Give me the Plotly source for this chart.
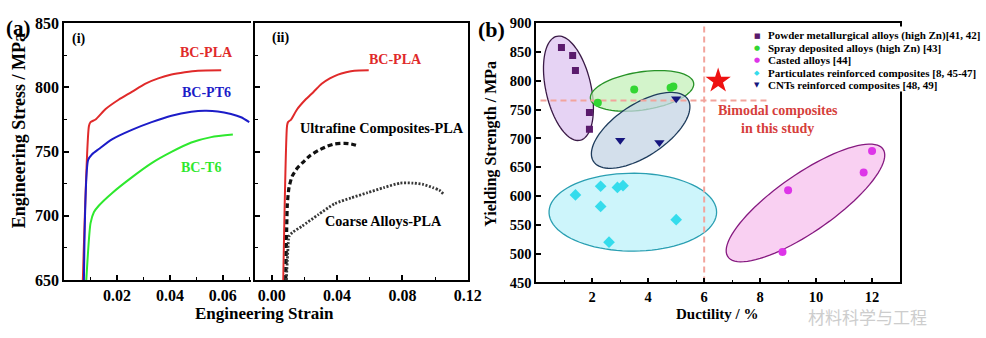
import numpy as np
import plotly.graph_objects as go

W, H = 986, 338
FONT = "Liberation Serif"

# ---------------- data: panel (a)(i) ----------------
pla_strain = [0.0071, 0.0094, 0.0100, 0.0119, 0.0156, 0.0206, 0.0256, 0.0306, 0.0356, 0.0406, 0.0456, 0.0506, 0.0594]
pla_stress = [650, 770, 773, 775, 783, 790.4, 796.5, 802.8, 807, 810, 811.8, 813, 813.3]

pt6_strain = [0.0075, 0.0091, 0.0106, 0.0131, 0.0181, 0.0256, 0.0331, 0.0406, 0.0481, 0.0531, 0.0581, 0.0631, 0.0669, 0.0700]
pt6_stress = [650, 743.6, 748, 752, 759.6, 767, 773, 778, 781, 781.8, 781.3, 779.3, 776.8, 773]

t6_strain = [0.0084, 0.0100, 0.0113, 0.0131, 0.0181, 0.0256, 0.0331, 0.0406, 0.0481, 0.0556, 0.0638]
t6_stress = [650, 694.3, 703, 707.9, 717.7, 730, 741.1, 749.8, 757.1, 761.3, 763.3]

# ---------------- data: panel (a)(ii) ----------------
ufc_strain = [0.0086, 0.0092, 0.0096, 0.0106, 0.0126, 0.0156, 0.0186, 0.0236, 0.0286, 0.0336, 0.0386, 0.0446, 0.0486, 0.0516]
ufc_stress = [650, 690, 709, 722, 731, 737, 741, 747, 751, 754, 756, 756.5, 756, 755]

coarse_strain = [0.0090, 0.0100, 0.0106, 0.0126, 0.0186, 0.0286, 0.0386, 0.0486, 0.0586, 0.0686, 0.0786, 0.0866, 0.0926, 0.0986, 0.1026, 0.1052]
coarse_stress = [650, 675, 684, 687, 692, 701, 709.5, 714, 718, 722, 725.5, 725.5, 724.5, 722, 720, 717]

# ---------------- data: panel (b) ----------------
pm_duct = [0.9, 1.3, 1.4, 1.9, 1.9]
pm_ys = [858, 844, 818, 745, 716]
spray_duct = [2.2, 3.5, 4.8, 4.9]
spray_ys = [762, 785, 788, 790]
cast_duct = [12.0, 11.7, 9.0, 8.8]
cast_ys = [678, 641, 610, 503]
part_duct = [1.4, 2.3, 2.3, 2.9, 3.1, 2.6, 5.0]
part_ys = [602, 617, 582, 615, 618, 520, 559]
cnt_duct = [3.0, 4.4, 5.0]
cnt_ys = [697, 693, 769]
study_duct = [6.5]
study_ys = [800]
ref_ys = 766          # horizontal reference line
ref_duct = 6          # vertical reference line
ref_h_extent = [0.15, 8.3]

legend_names = [
    "Powder metallurgical alloys (high Zn)[41, 42]",
    "Spray deposited alloys (high Zn) [43]",
    "Casted alloys [44]",
    "Particulates reinforced composites [8, 45-47]",
    "CNTs reinforced composites [48, 49]",
]

# ---------------- layout geometry (pixels) ----------------
A1 = (65, 255)
A2 = (259, 474.5)
B = (544, 913)
A_TB = (16, 286.5)
B_TB = (16, 289)


def xd(lr):
    return [lr[0] / W, lr[1] / W]


def yd(tb):
    return [1 - tb[1] / H, 1 - tb[0] / H]


def px(x):
    return x / W


def py(y):
    return 1 - y / H


fig = go.Figure()

RED, BLUE, GREEN = "#e02a2a", "#1c1cc8", "#2ee82e"

line_kw = dict(mode="lines", line_shape="spline", showlegend=False, hoverinfo="skip")
fig.add_trace(go.Scatter(x=pla_strain, y=pla_stress, line=dict(color=RED, width=2, smoothing=0.6), xaxis="x", yaxis="y", **line_kw))
fig.add_trace(go.Scatter(x=pt6_strain, y=pt6_stress, line=dict(color=BLUE, width=2, smoothing=0.6), xaxis="x", yaxis="y", **line_kw))
fig.add_trace(go.Scatter(x=t6_strain, y=t6_stress, line=dict(color=GREEN, width=2, smoothing=0.6), xaxis="x", yaxis="y", **line_kw))

fig.add_trace(go.Scatter(x=pla_strain, y=pla_stress, line=dict(color=RED, width=2, smoothing=0.6), xaxis="x2", yaxis="y2", **line_kw))
fig.add_trace(go.Scatter(x=ufc_strain, y=ufc_stress, line=dict(color="#111111", width=3.2, dash="5px,3px", smoothing=0.6), xaxis="x2", yaxis="y2", **line_kw))
fig.add_trace(go.Scatter(x=coarse_strain, y=coarse_stress, line=dict(color="#383838", width=2.8, dash="2px,1.6px", smoothing=0.6), xaxis="x2", yaxis="y2", **line_kw))

# ---------------- panel (b) ellipses ----------------
sx = (B[1] - B[0]) / 13.0
sy = (B_TB[1] - B_TB[0]) / 450.0

ellipses = [
    # cx, cy (data), a_px, b_px, angle_deg, fill, line
    (1.15, 787, 56, 23, 102, "rgba(221,196,240,0.75)", "#3a1a46"),
    (3.78, 782.5, 53, 20, 9, "rgba(196,240,186,0.75)", "#279227"),
    (3.73, 714, 58, 27, 35, "rgba(196,212,228,0.75)", "#1e3c5c"),
    (3.45, 572, 85, 41, 0, "rgba(192,242,250,0.80)", "#2a9fb2"),
    (9.62, 588, 97, 30, 36, "rgba(248,200,240,0.85)", "#861a80"),
]
shapes = []
for cx, cy, a, b, ang, fc, lc in ellipses:
    t = np.linspace(0, 2 * np.pi, 90)
    th = np.radians(ang)
    dxp = a * np.cos(t) * np.cos(th) - b * np.sin(t) * np.sin(th)
    dyp = a * np.cos(t) * np.sin(th) + b * np.sin(t) * np.cos(th)
    xs = cx + dxp / sx
    ys = cy + dyp / sy
    path = "M " + " L ".join(f"{x:.4f},{y:.3f}" for x, y in zip(xs, ys)) + " Z"
    shapes.append(dict(type="path", path=path, xref="x3", yref="y3", fillcolor=fc,
                       line=dict(color=lc, width=1.3), layer="below"))

# reference dashed lines
DASHC = "#f2a49c"
fig.add_trace(go.Scatter(x=[ref_duct, ref_duct], y=[450, 900], mode="lines", line=dict(color=DASHC, width=2, dash="6px,4px"),
                         xaxis="x3", yaxis="y3", showlegend=False, hoverinfo="skip"))
fig.add_trace(go.Scatter(x=ref_h_extent, y=[ref_ys, ref_ys], mode="lines", line=dict(color=DASHC, width=2, dash="6px,4px"),
                         xaxis="x3", yaxis="y3", showlegend=False, hoverinfo="skip"))

PM_C, SP_C, CA_C, PA_C, CN_C = "#5a1a6c", "#33d633", "#dd35e8", "#35dcec", "#16167e"
groups = [
    (pm_duct, pm_ys, "square", PM_C, 7),
    (spray_duct, spray_ys, "circle", SP_C, 8),
    (cast_duct, cast_ys, "circle", CA_C, 8),
    (part_duct, part_ys, "diamond", PA_C, 9),
    (cnt_duct, cnt_ys, "triangle-down", CN_C, 9),
]
for (xs, ys, sym, col, sz), name in zip(groups, legend_names):
    fig.add_trace(go.Scatter(x=xs, y=ys, mode="markers", name=name, marker=dict(symbol=sym, color=col, size=sz, line=dict(width=0)),
                             xaxis="x3", yaxis="y3", showlegend=False))
fig.add_trace(go.Scatter(x=study_duct, y=study_ys, mode="markers", marker=dict(symbol="star", color="#ee1111", size=19, line=dict(width=0)),
                         xaxis="x3", yaxis="y3", showlegend=False))

# white box behind legend (covers frame corner)
shapes.append(dict(type="rect", xref="paper", yref="paper", x0=px(757), x1=px(986), y0=py(88), y1=py(19.5),
                   fillcolor="white", line=dict(width=0), layer="above"))

# ---------------- axes ----------------
def axis_common(ts, mirror=True):
    return dict(showline=True, linecolor="black", linewidth=1.6, mirror=mirror, ticks="inside", ticklen=5, tickwidth=1.5,
                tickcolor="black", showgrid=False, zeroline=False,
                tickfont=dict(family=FONT, size=ts, color="black", weight="bold"))


MINOR = dict(ticklen=3, ticks="inside", tickcolor="black", tickwidth=1.3)
fig.update_layout(
    xaxis=dict(domain=xd(A1), range=[0, 0.0708], anchor="y", tickvals=[0.02, 0.04, 0.06], ticktext=["0.02", "0.04", "0.06"],
               minor=dict(tickvals=[0.01, 0.03, 0.05, 0.07], **MINOR), **axis_common(16)),
    yaxis=dict(domain=yd(A_TB), range=[650, 850], anchor="x", tickvals=[650, 700, 750, 800, 850],
               minor=dict(tickvals=[675, 725, 775, 825], **MINOR), **axis_common(16, mirror=False)),
    xaxis2=dict(domain=xd(A2), range=[-0.01, 0.12], anchor="y2", tickvals=[0, 0.04, 0.08, 0.12], ticktext=["0.00", "0.04", "0.08", "0.12"],
                minor=dict(tickvals=[0.02, 0.06, 0.10], **MINOR), **axis_common(16)),
    yaxis2=dict(domain=yd(A_TB), range=[650, 850], anchor="x2", tickvals=[650, 700, 750, 800, 850], showticklabels=False,
                minor=dict(tickvals=[675, 725, 775, 825], **MINOR), **axis_common(16)),
    xaxis3=dict(domain=xd(B), range=[0, 13], anchor="y3", tickvals=[2, 4, 6, 8, 10, 12],
                minor=dict(tickvals=[1, 3, 5, 7, 9, 11], **MINOR), **axis_common(14.5)),
    yaxis3=dict(domain=yd(B_TB), range=[450, 900], anchor="x3", tickvals=list(range(450, 901, 50)), **axis_common(14.5)),
)

# ---------------- annotations ----------------
def ann(text, x, y, size, color="black", xref="paper", yref="paper", xanchor="center", yanchor="middle", angle=0, family=FONT, bold=True):
    return dict(text=text, x=x, y=y, xref=xref, yref=yref, xanchor=xanchor, yanchor=yanchor, showarrow=False, textangle=angle,
                font=dict(family=family, size=size, color=color, weight="bold" if bold else "normal"))


annots = [
    ann("(a)", px(19), py(21), 21),
    ann("(b)", px(498.5), py(23), 22),
    ann("Engineering Strain", px(268), py(322), 17),
    ann("Engineering Stress / MPa", px(19), py(129), 18, angle=-90),
    ann("Yielding Strength / MPa", px(498), py(143), 16, angle=-90),
    ann("Ductility / %", px(728), py(322), 15),
    ann("(i)", 0.0058, 838, 14, xref="x", yref="y", xanchor="center"),
    ann("(ii)", 0.0055, 838.4, 14, xref="x2", yref="y2", xanchor="center"),
    ann("BC-PLA", 0.054, 827, 14, color=RED, xref="x", yref="y"),
    ann("BC-PT6", 0.054, 796, 14, color=BLUE, xref="x", yref="y"),
    ann("BC-T6", 0.0518, 738, 14, color=GREEN, xref="x", yref="y"),
    ann("BC-PLA", 0.0755, 821.7, 14, color=RED, xref="x2", yref="y2"),
    ann("Ultrafine Composites-PLA", 0.0676, 768.3, 14.3, xref="x2", yref="y2"),
    ann("Coarse Alloys-PLA", 0.0686, 696.3, 14.2, xref="x2", yref="y2"),
    ann("Bimodal composites<br>in this study", 6.43, 733.5, 14, color="#d6403c", xref="x3", yref="y3", xanchor="left"),
    ann("材料科学与工程", px(880), py(325), 17, color="#cdcdcd", family="Noto Sans CJK SC", bold=False),
]

leg_syms = ["■", "●", "●", "◆", "▼"]
leg_cols = [PM_C, SP_C, CA_C, PA_C, CN_C]
leg_y = [29.3, 42.3, 55.2, 68.2, 81]
for sym, col, name, yy in zip(leg_syms, leg_cols, legend_names, leg_y):
    annots.append(ann(sym, px(768.3), py(yy), 7, color=col, family="DejaVu Sans", bold=False))
    annots.append(ann(name, px(777), py(yy), 11, xanchor="left"))

fig.update_layout(
    width=W, height=H, margin=dict(l=0, r=0, t=0, b=0),
    paper_bgcolor="white", plot_bgcolor="white",
    font=dict(family=FONT, color="black"),
    showlegend=False,
    shapes=shapes,
    annotations=annots,
)

fig.write_html("out.html")
